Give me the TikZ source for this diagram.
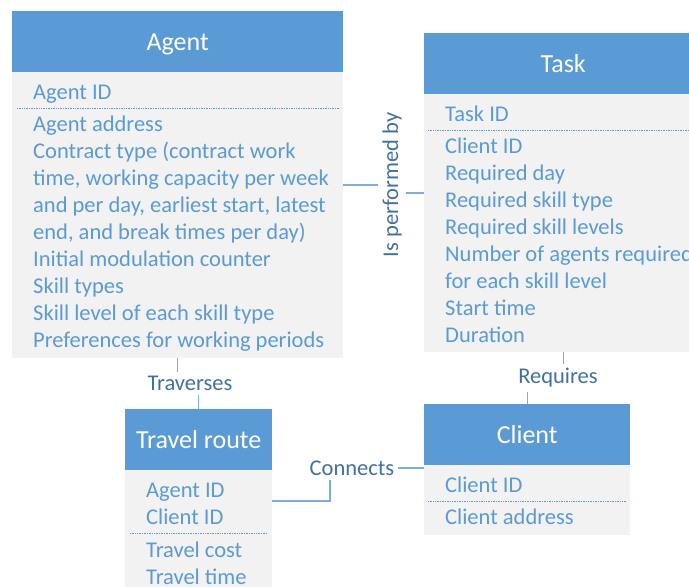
\documentclass[tikz,border=0pt]{standalone}
\usepackage{fontspec}
\setmainfont{Carlito}
\usetikzlibrary{positioning}
\definecolor{headblue}{HTML}{5B9BD5}
\definecolor{boxgray}{HTML}{F2F2F2}
\definecolor{attrblue}{HTML}{5B9BD5}
\definecolor{relblue}{HTML}{41719C}
\definecolor{lineblue}{HTML}{7FAEDD}
\begin{document}
\begin{tikzpicture}[x=1pt,y=-1pt,
  head/.style={fill=headblue,text=white,font=\fontsize{26}{31}\selectfont,inner sep=0,anchor=north west,minimum height=61,text height=22,text depth=5},
  body/.style={fill=boxgray,inner sep=0,anchor=north west},
  attr/.style={text=attrblue,font=\fontsize{22.5}{27}\selectfont,align=left,inner sep=0,anchor=north west,execute at begin node=\strut},
  sep/.style={draw=attrblue,densely dotted,line width=0.7},
  link/.style={draw=lineblue,line width=1.2},
  rel/.style={text=relblue,font=\fontsize{22.5}{27}\selectfont,inner sep=4}]
\useasboundingbox (0,0) rectangle (689,587);
% Agent
\node[body,minimum width=331,minimum height=286] (agentbody) at (12,72) {};
\node[head,minimum width=331] (agent) at (12,11) {Agent};
\node[attr] (agentkey) at (33,80) {Agent ID};
\node[attr] (agentattr) at (33,116) {Agent address\\Contract type (contract work\\time, working capacity per week\\and per day, earliest start, latest\\end, and break times per day)\\Initial modulation counter\\Skill types\\Skill level of each skill type\\Preferences for working periods};
\draw[sep] ([shift={(5,36)}]agentbody.north west) -- ([shift={(-5,36)}]agentbody.north east);
% Task
\node[body,minimum width=278,minimum height=258] (taskbody) at (424,94) {};
\node[head,minimum width=278] (task) at (424,33) {Task};
\node[attr] (taskkey) at (445,102) {Task ID};
\node[attr] (taskattr) at (445,138) {Client ID\\Required day\\Required skill type\\Required skill levels\\Number of agents required\\for each skill level\\Start time\\Duration};
\draw[sep] ([shift={(4,36)}]taskbody.north west) -- ([shift={(-4,36)}]taskbody.north east);
% Travel route
\node[body,minimum width=147,minimum height=130] (travelbody) at (125,470) {};
\node[head,minimum width=147] (travel) at (125,409) {Travel route};
\node[attr] (travelkey) at (146,483) {Agent ID\\Client ID};
\node[attr] (travelattr) at (146,542) {Travel cost\\Travel time};
\draw[sep] ([shift={(5,63)}]travelbody.north west) -- ([shift={(-5,63)}]travelbody.north east);
% Client
\node[body,minimum width=206,minimum height=70] (clientbody) at (424,465) {};
\node[head,minimum width=206] (client) at (424,404) {Client};
\node[attr] (clientkey) at (445,473) {Client ID};
\node[attr] (clientattr) at (445,505) {Client address};
\draw[sep] ([shift={(4,36)}]clientbody.north west) -- ([shift={(-4,36)}]clientbody.north east);
% relations
\node[rel,rotate=90] (performed) at (392,185) {Is performed by};
\node[rel] (traverses) at (190,383) {Traverses};
\node[rel] (requires) at (558,378) {Requires};
\node[rel] (connects) at (352,468) {Connects};
\coordinate (perfright) at ([yshift=-8]performed.south);
\coordinate (bend) at (330,501);
\draw[link] (agentbody.east |- performed) -- (performed.north);
\draw[link] (perfright) -- (perfright -| taskbody.west);
\draw[link] (agentbody.south) -- (agentbody.south |- traverses.north);
\draw[link] (traverses.south -| travel.north) -- (travel.north);
\draw[link] (taskbody.south) -- (taskbody.south |- requires.north);
\draw[link] (requires.south -| client.north) -- (client.north);
\draw[link] (travelbody.east |- bend) -- (bend) -- (bend |- connects.south);
\draw[link] (connects.east) -- (connects.east -| clientbody.west);
\end{tikzpicture}
\end{document}
